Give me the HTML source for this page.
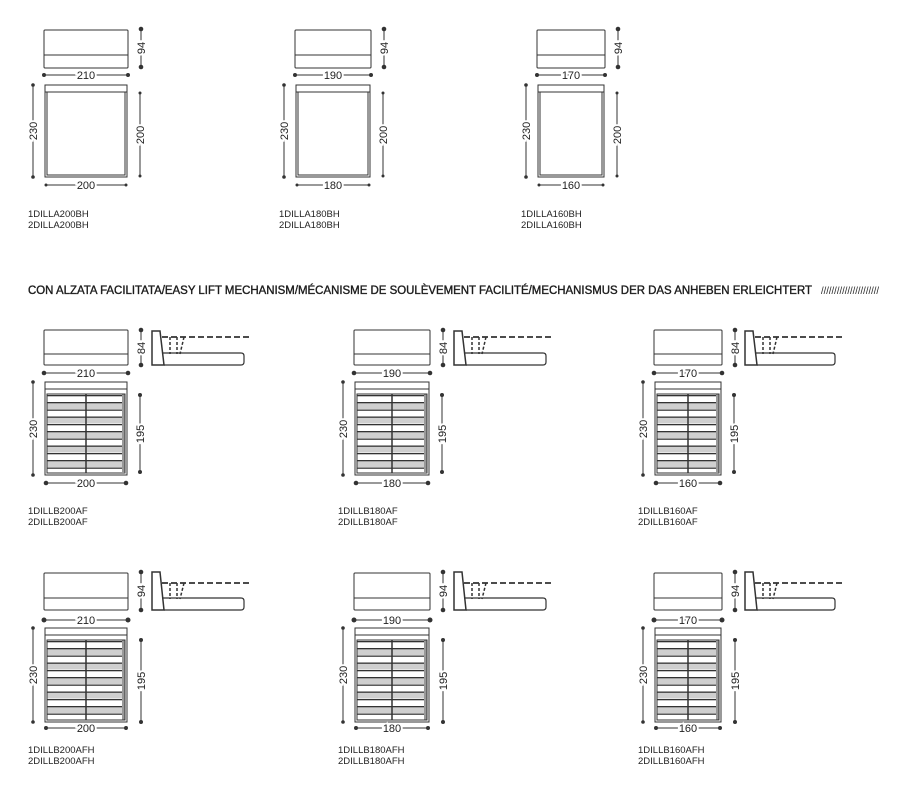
<!DOCTYPE html>
<html><head><meta charset="utf-8"><style>
html,body{margin:0;padding:0;background:#fff;}
svg{display:block;}
text{font-family:"Liberation Sans",sans-serif;fill:#222;}
.d{font-size:11px;text-anchor:middle;stroke:#fff;stroke-width:4px;paint-order:stroke;}
.l{font-size:9.5px;}
</style></head><body>
<svg width="901" height="788" viewBox="0 0 901 788" xmlns="http://www.w3.org/2000/svg">
<defs>
<pattern id="pB" patternUnits="userSpaceOnUse" x="0" y="395" width="200" height="14.5">
<rect x="0" y="0" width="200" height="14.5" fill="#fff"/>
<rect x="0" y="7" width="200" height="7" fill="#cfcfcf"/>
<rect x="0" y="0" width="200" height="1.3" fill="#333"/>
<rect x="0" y="7" width="200" height="1.3" fill="#333"/>
</pattern>
<pattern id="pC" patternUnits="userSpaceOnUse" x="0" y="641" width="200" height="14.5">
<rect x="0" y="0" width="200" height="14.5" fill="#fff"/>
<rect x="0" y="7" width="200" height="7" fill="#cfcfcf"/>
<rect x="0" y="0" width="200" height="1.3" fill="#333"/>
<rect x="0" y="7" width="200" height="1.3" fill="#333"/>
</pattern>
</defs>
<g fill="none" stroke="#333" stroke-width="1">

<g transform="translate(44,0)">
<rect x="0" y="30" width="84" height="38" rx="1"/><line x1="0" y1="55" x2="84" y2="55"/>
<line x1="97" y1="29" x2="97" y2="67"/>
<line x1="0" y1="75" x2="84" y2="75"/>
<rect x="1" y="85" width="82" height="92"/><line x1="1" y1="92" x2="83" y2="92"/><rect x="3" y="92" width="78" height="83"/>
<line x1="-11" y1="85" x2="-11" y2="177"/>
<line x1="96" y1="93" x2="96" y2="176"/>
<line x1="2" y1="185" x2="82" y2="185"/>
</g>
<g transform="translate(295,0)">
<rect x="0" y="30" width="76" height="38" rx="1"/><line x1="0" y1="55" x2="76" y2="55"/>
<line x1="89" y1="29" x2="89" y2="67"/>
<line x1="0" y1="75" x2="76" y2="75"/>
<rect x="1" y="85" width="74" height="92"/><line x1="1" y1="92" x2="75" y2="92"/><rect x="3" y="92" width="70" height="83"/>
<line x1="-11" y1="85" x2="-11" y2="177"/>
<line x1="88" y1="93" x2="88" y2="176"/>
<line x1="2" y1="185" x2="74" y2="185"/>
</g>
<g transform="translate(537,0)">
<rect x="0" y="30" width="68" height="38" rx="1"/><line x1="0" y1="55" x2="68" y2="55"/>
<line x1="81" y1="29" x2="81" y2="67"/>
<line x1="0" y1="75" x2="68" y2="75"/>
<rect x="1" y="85" width="66" height="92"/><line x1="1" y1="92" x2="67" y2="92"/><rect x="3" y="92" width="62" height="83"/>
<line x1="-11" y1="85" x2="-11" y2="177"/>
<line x1="80" y1="93" x2="80" y2="176"/>
<line x1="2" y1="185" x2="66" y2="185"/>
</g>

<g transform="translate(44,0)">
<rect x="0" y="330" width="84" height="35" rx="1"/><line x1="0" y1="354" x2="84" y2="354"/>
<line x1="97" y1="330" x2="97" y2="365"/>
<line x1="0" y1="373" x2="84" y2="373"/>
<rect x="3" y="394" width="78" height="78" fill="url(#pB)" stroke="none"/>
<rect x="78" y="394" width="3" height="78" fill="#999" stroke="none"/>
<rect x="1" y="382" width="82" height="93"/><line x1="1" y1="389" x2="83" y2="389"/><rect x="3" y="394" width="78" height="79"/>
<line x1="42" y1="394" x2="42" y2="473" stroke-width="1.5"/>
<line x1="-11" y1="382" x2="-11" y2="475"/>
<line x1="96" y1="395" x2="96" y2="472"/>
<line x1="2" y1="483" x2="82" y2="483"/>
<path d="M108,331 L116,331 L120,365 L108,365 Z" stroke-width="1.5"/>
<path d="M118,353 L197,353 Q200,353 200,356 L200,362 Q200,365 197,365 L120,365" stroke-width="1.2"/>
<line x1="118" y1="337" x2="206" y2="337" stroke-dasharray="6,3" stroke-width="1.8"/>
<line x1="126" y1="337" x2="126" y2="354" stroke-dasharray="3,2" stroke-width="1.5"/>
<line x1="133" y1="337" x2="133" y2="354" stroke-dasharray="3,2" stroke-width="1.5"/>
<line x1="140" y1="337" x2="136" y2="354" stroke-dasharray="3,2" stroke-width="1.5"/>
</g>
<g transform="translate(354,0)">
<rect x="0" y="330" width="76" height="35" rx="1"/><line x1="0" y1="354" x2="76" y2="354"/>
<line x1="89" y1="330" x2="89" y2="365"/>
<line x1="0" y1="373" x2="76" y2="373"/>
<rect x="3" y="394" width="70" height="78" fill="url(#pB)" stroke="none"/>
<rect x="70" y="394" width="3" height="78" fill="#999" stroke="none"/>
<rect x="1" y="382" width="74" height="93"/><line x1="1" y1="389" x2="75" y2="389"/><rect x="3" y="394" width="70" height="79"/>
<line x1="38" y1="394" x2="38" y2="473" stroke-width="1.5"/>
<line x1="-11" y1="382" x2="-11" y2="475"/>
<line x1="88" y1="395" x2="88" y2="472"/>
<line x1="2" y1="483" x2="74" y2="483"/>
<path d="M100,331 L108,331 L112,365 L100,365 Z" stroke-width="1.5"/>
<path d="M110,353 L189,353 Q192,353 192,356 L192,362 Q192,365 189,365 L112,365" stroke-width="1.2"/>
<line x1="110" y1="337" x2="198" y2="337" stroke-dasharray="6,3" stroke-width="1.8"/>
<line x1="118" y1="337" x2="118" y2="354" stroke-dasharray="3,2" stroke-width="1.5"/>
<line x1="125" y1="337" x2="125" y2="354" stroke-dasharray="3,2" stroke-width="1.5"/>
<line x1="132" y1="337" x2="128" y2="354" stroke-dasharray="3,2" stroke-width="1.5"/>
</g>
<g transform="translate(654,0)">
<rect x="0" y="330" width="68" height="35" rx="1"/><line x1="0" y1="354" x2="68" y2="354"/>
<line x1="81" y1="330" x2="81" y2="365"/>
<line x1="0" y1="373" x2="68" y2="373"/>
<rect x="3" y="394" width="62" height="78" fill="url(#pB)" stroke="none"/>
<rect x="62" y="394" width="3" height="78" fill="#999" stroke="none"/>
<rect x="1" y="382" width="66" height="93"/><line x1="1" y1="389" x2="67" y2="389"/><rect x="3" y="394" width="62" height="79"/>
<line x1="34" y1="394" x2="34" y2="473" stroke-width="1.5"/>
<line x1="-11" y1="382" x2="-11" y2="475"/>
<line x1="80" y1="395" x2="80" y2="472"/>
<line x1="2" y1="483" x2="66" y2="483"/>
<path d="M91,331 L99,331 L103,365 L91,365 Z" stroke-width="1.5"/>
<path d="M101,353 L178,353 Q181,353 181,356 L181,362 Q181,365 178,365 L103,365" stroke-width="1.2"/>
<line x1="101" y1="337" x2="189" y2="337" stroke-dasharray="6,3" stroke-width="1.8"/>
<line x1="109" y1="337" x2="109" y2="354" stroke-dasharray="3,2" stroke-width="1.5"/>
<line x1="116" y1="337" x2="116" y2="354" stroke-dasharray="3,2" stroke-width="1.5"/>
<line x1="123" y1="337" x2="119" y2="354" stroke-dasharray="3,2" stroke-width="1.5"/>
</g>

<g transform="translate(44,0)">
<rect x="0" y="573" width="84" height="37" rx="1"/><line x1="0" y1="598" x2="84" y2="598"/>
<line x1="97" y1="572" x2="97" y2="610"/>
<line x1="0" y1="620" x2="84" y2="620"/>
<rect x="3" y="640" width="78" height="80" fill="url(#pC)" stroke="none"/>
<rect x="78" y="640" width="3" height="80" fill="#999" stroke="none"/>
<rect x="1" y="628" width="82" height="94"/><line x1="1" y1="635" x2="83" y2="635"/><rect x="3" y="640" width="78" height="80"/>
<line x1="42" y1="640" x2="42" y2="720" stroke-width="1.5"/>
<line x1="-11" y1="628" x2="-11" y2="722"/>
<line x1="97" y1="640" x2="97" y2="722"/>
<line x1="2" y1="728" x2="82" y2="728"/>
<path d="M108,572 L116,572 L120,610 L108,610 Z" stroke-width="1.5"/>
<path d="M118,598 L197,598 Q200,598 200,601 L200,607 Q200,610 197,610 L120,610" stroke-width="1.2"/>
<line x1="118" y1="583" x2="206" y2="583" stroke-dasharray="6,3" stroke-width="1.8"/>
<line x1="126" y1="583" x2="126" y2="599" stroke-dasharray="3,2" stroke-width="1.5"/>
<line x1="133" y1="583" x2="133" y2="599" stroke-dasharray="3,2" stroke-width="1.5"/>
<line x1="140" y1="583" x2="136" y2="599" stroke-dasharray="3,2" stroke-width="1.5"/>
</g>
<g transform="translate(354,0)">
<rect x="0" y="573" width="76" height="37" rx="1"/><line x1="0" y1="598" x2="76" y2="598"/>
<line x1="89" y1="572" x2="89" y2="610"/>
<line x1="0" y1="620" x2="76" y2="620"/>
<rect x="3" y="640" width="70" height="80" fill="url(#pC)" stroke="none"/>
<rect x="70" y="640" width="3" height="80" fill="#999" stroke="none"/>
<rect x="1" y="628" width="74" height="94"/><line x1="1" y1="635" x2="75" y2="635"/><rect x="3" y="640" width="70" height="80"/>
<line x1="38" y1="640" x2="38" y2="720" stroke-width="1.5"/>
<line x1="-11" y1="628" x2="-11" y2="722"/>
<line x1="89" y1="640" x2="89" y2="722"/>
<line x1="2" y1="728" x2="74" y2="728"/>
<path d="M100,572 L108,572 L112,610 L100,610 Z" stroke-width="1.5"/>
<path d="M110,598 L189,598 Q192,598 192,601 L192,607 Q192,610 189,610 L112,610" stroke-width="1.2"/>
<line x1="110" y1="583" x2="198" y2="583" stroke-dasharray="6,3" stroke-width="1.8"/>
<line x1="118" y1="583" x2="118" y2="599" stroke-dasharray="3,2" stroke-width="1.5"/>
<line x1="125" y1="583" x2="125" y2="599" stroke-dasharray="3,2" stroke-width="1.5"/>
<line x1="132" y1="583" x2="128" y2="599" stroke-dasharray="3,2" stroke-width="1.5"/>
</g>
<g transform="translate(654,0)">
<rect x="0" y="573" width="68" height="37" rx="1"/><line x1="0" y1="598" x2="68" y2="598"/>
<line x1="81" y1="572" x2="81" y2="610"/>
<line x1="0" y1="620" x2="68" y2="620"/>
<rect x="3" y="640" width="62" height="80" fill="url(#pC)" stroke="none"/>
<rect x="62" y="640" width="3" height="80" fill="#999" stroke="none"/>
<rect x="1" y="628" width="66" height="94"/><line x1="1" y1="635" x2="67" y2="635"/><rect x="3" y="640" width="62" height="80"/>
<line x1="34" y1="640" x2="34" y2="720" stroke-width="1.5"/>
<line x1="-11" y1="628" x2="-11" y2="722"/>
<line x1="81" y1="640" x2="81" y2="722"/>
<line x1="2" y1="728" x2="66" y2="728"/>
<path d="M91,572 L99,572 L103,610 L91,610 Z" stroke-width="1.5"/>
<path d="M101,598 L178,598 Q181,598 181,601 L181,607 Q181,610 178,610 L103,610" stroke-width="1.2"/>
<line x1="101" y1="583" x2="189" y2="583" stroke-dasharray="6,3" stroke-width="1.8"/>
<line x1="109" y1="583" x2="109" y2="599" stroke-dasharray="3,2" stroke-width="1.5"/>
<line x1="116" y1="583" x2="116" y2="599" stroke-dasharray="3,2" stroke-width="1.5"/>
<line x1="123" y1="583" x2="119" y2="599" stroke-dasharray="3,2" stroke-width="1.5"/>
</g>
</g>

<g fill="#333">
<circle cx="141" cy="29" r="2.3"/><circle cx="141" cy="67" r="2.3"/><circle cx="44" cy="75" r="2"/><circle cx="128" cy="75" r="2"/><circle cx="33" cy="85" r="1.8"/><circle cx="33" cy="177" r="1.8"/><circle cx="140" cy="93" r="1.5"/><circle cx="140" cy="176" r="1.5"/><circle cx="46" cy="185" r="1.5"/><circle cx="126" cy="185" r="1.5"/>
<circle cx="384" cy="29" r="2.3"/><circle cx="384" cy="67" r="2.3"/><circle cx="295" cy="75" r="2"/><circle cx="371" cy="75" r="2"/><circle cx="284" cy="85" r="1.8"/><circle cx="284" cy="177" r="1.8"/><circle cx="383" cy="93" r="1.5"/><circle cx="383" cy="176" r="1.5"/><circle cx="297" cy="185" r="1.5"/><circle cx="369" cy="185" r="1.5"/>
<circle cx="618" cy="29" r="2.3"/><circle cx="618" cy="67" r="2.3"/><circle cx="537" cy="75" r="2"/><circle cx="605" cy="75" r="2"/><circle cx="526" cy="85" r="1.8"/><circle cx="526" cy="177" r="1.8"/><circle cx="617" cy="93" r="1.5"/><circle cx="617" cy="176" r="1.5"/><circle cx="539" cy="185" r="1.5"/><circle cx="603" cy="185" r="1.5"/>

<circle cx="141" cy="330" r="2.3"/><circle cx="141" cy="365" r="2.3"/><circle cx="44" cy="373" r="2.3"/><circle cx="128" cy="373" r="2.3"/><circle cx="33" cy="382" r="1.8"/><circle cx="33" cy="475" r="1.8"/><circle cx="140" cy="395" r="2"/><circle cx="140" cy="472" r="2"/><circle cx="46" cy="483" r="2.3"/><circle cx="126" cy="483" r="2.3"/>
<circle cx="443" cy="330" r="2.3"/><circle cx="443" cy="365" r="2.3"/><circle cx="354" cy="373" r="2.3"/><circle cx="430" cy="373" r="2.3"/><circle cx="343" cy="382" r="1.8"/><circle cx="343" cy="475" r="1.8"/><circle cx="442" cy="395" r="2"/><circle cx="442" cy="472" r="2"/><circle cx="356" cy="483" r="2.3"/><circle cx="428" cy="483" r="2.3"/>
<circle cx="735" cy="330" r="2.3"/><circle cx="735" cy="365" r="2.3"/><circle cx="654" cy="373" r="2.3"/><circle cx="722" cy="373" r="2.3"/><circle cx="643" cy="382" r="1.8"/><circle cx="643" cy="475" r="1.8"/><circle cx="734" cy="395" r="2"/><circle cx="734" cy="472" r="2"/><circle cx="656" cy="483" r="2.3"/><circle cx="720" cy="483" r="2.3"/>

<circle cx="141" cy="572" r="2.3"/><circle cx="141" cy="610" r="2.3"/><circle cx="44" cy="620" r="2.5"/><circle cx="128" cy="620" r="2.5"/><circle cx="33" cy="628" r="1.8"/><circle cx="33" cy="722" r="1.8"/><circle cx="141" cy="640" r="2"/><circle cx="141" cy="722" r="2"/><circle cx="46" cy="728" r="2"/><circle cx="126" cy="728" r="2"/>
<circle cx="443" cy="572" r="2.3"/><circle cx="443" cy="610" r="2.3"/><circle cx="354" cy="620" r="2.5"/><circle cx="430" cy="620" r="2.5"/><circle cx="343" cy="628" r="1.8"/><circle cx="343" cy="722" r="1.8"/><circle cx="443" cy="640" r="2"/><circle cx="443" cy="722" r="2"/><circle cx="356" cy="728" r="2"/><circle cx="428" cy="728" r="2"/>
<circle cx="735" cy="572" r="2.3"/><circle cx="735" cy="610" r="2.3"/><circle cx="654" cy="620" r="2.5"/><circle cx="722" cy="620" r="2.5"/><circle cx="643" cy="628" r="1.8"/><circle cx="643" cy="722" r="1.8"/><circle cx="735" cy="640" r="2"/><circle cx="735" cy="722" r="2"/><circle cx="656" cy="728" r="2"/><circle cx="720" cy="728" r="2"/>
</g>

<g>
<text class="d" x="86" y="79">210</text><text class="d" x="86" y="189">200</text>
<text class="d" transform="translate(145,48) rotate(-90)">94</text>
<text class="d" transform="translate(37,131) rotate(-90)">230</text>
<text class="d" transform="translate(144,135) rotate(-90)">200</text>
<text class="d" x="333" y="79">190</text><text class="d" x="333" y="189">180</text>
<text class="d" transform="translate(388,48) rotate(-90)">94</text>
<text class="d" transform="translate(288,131) rotate(-90)">230</text>
<text class="d" transform="translate(387,135) rotate(-90)">200</text>
<text class="d" x="571" y="79">170</text><text class="d" x="571" y="189">160</text>
<text class="d" transform="translate(622,48) rotate(-90)">94</text>
<text class="d" transform="translate(530,131) rotate(-90)">230</text>
<text class="d" transform="translate(621,135) rotate(-90)">200</text>

<text class="d" x="86" y="377">210</text><text class="d" x="86" y="487">200</text>
<text class="d" transform="translate(145,348) rotate(-90)">84</text>
<text class="d" transform="translate(37,429) rotate(-90)">230</text>
<text class="d" transform="translate(144,434) rotate(-90)">195</text>
<text class="d" x="392" y="377">190</text><text class="d" x="392" y="487">180</text>
<text class="d" transform="translate(447,348) rotate(-90)">84</text>
<text class="d" transform="translate(347,429) rotate(-90)">230</text>
<text class="d" transform="translate(446,434) rotate(-90)">195</text>
<text class="d" x="688" y="377">170</text><text class="d" x="688" y="487">160</text>
<text class="d" transform="translate(739,348) rotate(-90)">84</text>
<text class="d" transform="translate(647,429) rotate(-90)">230</text>
<text class="d" transform="translate(738,434) rotate(-90)">195</text>

<text class="d" x="86" y="624">210</text><text class="d" x="86" y="732">200</text>
<text class="d" transform="translate(145,591) rotate(-90)">94</text>
<text class="d" transform="translate(37,675) rotate(-90)">230</text>
<text class="d" transform="translate(145,681) rotate(-90)">195</text>
<text class="d" x="392" y="624">190</text><text class="d" x="392" y="732">180</text>
<text class="d" transform="translate(447,591) rotate(-90)">94</text>
<text class="d" transform="translate(347,675) rotate(-90)">230</text>
<text class="d" transform="translate(447,681) rotate(-90)">195</text>
<text class="d" x="688" y="624">170</text><text class="d" x="688" y="732">160</text>
<text class="d" transform="translate(739,591) rotate(-90)">94</text>
<text class="d" transform="translate(647,675) rotate(-90)">230</text>
<text class="d" transform="translate(739,681) rotate(-90)">195</text>
</g>

<g>
<text class="l" x="28" y="217">1DILLA200BH</text><text class="l" x="28" y="228">2DILLA200BH</text>
<text class="l" x="279" y="217">1DILLA180BH</text><text class="l" x="279" y="228">2DILLA180BH</text>
<text class="l" x="521" y="217">1DILLA160BH</text><text class="l" x="521" y="228">2DILLA160BH</text>
<text class="l" x="28" y="514">1DILLB200AF</text><text class="l" x="28" y="525">2DILLB200AF</text>
<text class="l" x="338" y="514">1DILLB180AF</text><text class="l" x="338" y="525">2DILLB180AF</text>
<text class="l" x="638" y="514">1DILLB160AF</text><text class="l" x="638" y="525">2DILLB160AF</text>
<text class="l" x="28" y="753">1DILLB200AFH</text><text class="l" x="28" y="764">2DILLB200AFH</text>
<text class="l" x="338" y="753">1DILLB180AFH</text><text class="l" x="338" y="764">2DILLB180AFH</text>
<text class="l" x="638" y="753">1DILLB160AFH</text><text class="l" x="638" y="764">2DILLB160AFH</text>
</g>

<text x="28" y="294" font-size="11.5" textLength="784" lengthAdjust="spacingAndGlyphs" fill="#111" stroke="#111" stroke-width="0.35">CON ALZATA FACILITATA/EASY LIFT MECHANISM/MÉCANISME DE SOULÈVEMENT FACILITÉ/MECHANISMUS DER DAS ANHEBEN ERLEICHTERT</text>
<text x="821" y="294" font-size="10" textLength="58" lengthAdjust="spacingAndGlyphs" fill="#8a6a4a">//////////////////////</text>
</svg>
</body></html>
